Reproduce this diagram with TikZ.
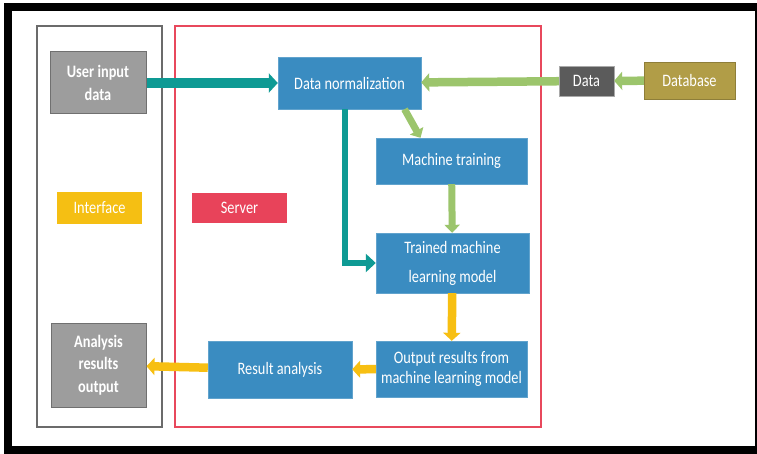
\documentclass[tikz,border=0pt]{standalone}
\usepackage{fontspec}
\setmainfont{Carlito}[FakeStretch=0.82]
\usepackage{tikz}
\usepackage{xcolor}
\usetikzlibrary{arrows.meta}

\definecolor{boxblue}{HTML}{3A8CC1}
\definecolor{arrteal}{HTML}{0E9A94}
\definecolor{arrgreen}{HTML}{9CC56C}
\definecolor{arryellow}{HTML}{F7BF12}
\definecolor{boxgray}{HTML}{9D9D9D}
\definecolor{edgegray}{HTML}{707070}
\definecolor{framegray}{HTML}{6B6B6B}
\definecolor{framered}{HTML}{E8485C}
\definecolor{datagray}{HTML}{5B5B5B}
\definecolor{dbolive}{HTML}{B19D47}
\definecolor{tagyellow}{HTML}{F5BF13}
\definecolor{tagred}{HTML}{E8435A}

\tikzset{
    blockbox/.style = {fill=boxblue, draw=boxblue!80!white, text=white, align=center,
                       inner sep=0pt, font=\fontsize{17.5}{20}\selectfont},
    greybox/.style  = {fill=boxgray, draw=edgegray, line width=1pt, text=white, align=center,
                       inner sep=0pt, font=\fontsize{17.5}{22.5}\selectfont\bfseries},
    tagbox/.style   = {text=white, inner sep=0pt, font=\fontsize{17.5}{20}\selectfont}
}

\begin{document}
\begin{tikzpicture}[x=1pt, y=-1pt]
                \useasboundingbox (0,0) rectangle (757,454);
                \fill[white] (0,0) rectangle (757,454);
                \fill[black] (4,3) rectangle (757,454);
                \fill[white] (12,11) rectangle (755,446);

                \draw[framegray, line width=2.5pt] (37,26) rectangle (162,427);
                \draw[framered, line width=2pt] (175,26) rectangle (541,427);

                \begin{scope}[every node/.style = {greybox}]
                    \node[minimum width=96, minimum height=62] (userin) at (98, 83)   {User input\\data};
                    \node[minimum width=95, minimum height=84] (anaout) at (98.5, 365) {Analysis\\results\\output};
                \end{scope}

                \begin{scope}[every node/.style = {blockbox}]
                    \node[minimum width=143, minimum height=52] (datanorm) at (349.5, 83)  {Data normalization};
                    \node[minimum width=151, minimum height=46] (training) at (451.5, 161) {Machine training};
                    \node[minimum width=153, minimum height=60, font=\fontsize{17.5}{29}\selectfont]
                          (trained)  at (452.5, 263) {Trained machine\\learning model};
                    \node[minimum width=151, minimum height=56] (outres)   at (451.5, 369) {Output results from\\machine learning model};
                    \node[minimum width=144, minimum height=57] (resana)   at (280, 369.5) {Result analysis};
                \end{scope}

                \begin{scope}[every node/.style = {tagbox}]
                    \node[fill=tagyellow, minimum width=85, minimum height=32] (iface)  at (99.5, 208)  {Interface};
                    \node[fill=tagred,    minimum width=95, minimum height=30] (server) at (239.5, 208)  {Server};
                    \node[fill=datagray, draw=edgegray!60, minimum width=55, minimum height=30] (data)  at (586.5, 81)   {Data};
                    \node[fill=dbolive, draw=dbolive!80!black, minimum width=91, minimum height=37] (dbase) at (689.5, 80.5) {Database};
                \end{scope}

                \begin{scope}[>={Triangle[length=9pt, width=19pt]},
                                every edge/.style={draw=arrteal, line width=10pt}]
                     \path [->] (userin) edge (datanorm);
                \end{scope}
                \draw [arrteal, line width=6.5pt, -{Triangle[length=10pt, width=18pt]}]
                      ([xshift=-4.5pt]datanorm.south) |- (trained.west);

                \begin{scope}[>={Triangle[length=8pt, width=18pt]},
                                every edge/.style={draw=arrgreen, line width=8.5pt}]
                     \path [->] (dbase) edge (data);
                     \path [->] (data) edge (datanorm);
                \end{scope}

                \begin{scope}[>={Triangle[length=8pt, width=15pt]},
                                every edge/.style={draw=arrgreen, line width=7pt}]
                     \path [->] ([xshift=55pt]datanorm.south) edge ([xshift=-31pt]training.north);
                     \path [->] (training) edge (trained);
                \end{scope}

                \begin{scope}[>={Triangle[length=8pt, width=17pt]},
                                every edge/.style={draw=arryellow, line width=8.5pt}]
                     \path [->] (trained) edge (outres);
                     \path [->] (outres) edge (resana);
                     \path [->] (resana) edge (anaout);
                \end{scope}
            \end{tikzpicture}
\end{document}
